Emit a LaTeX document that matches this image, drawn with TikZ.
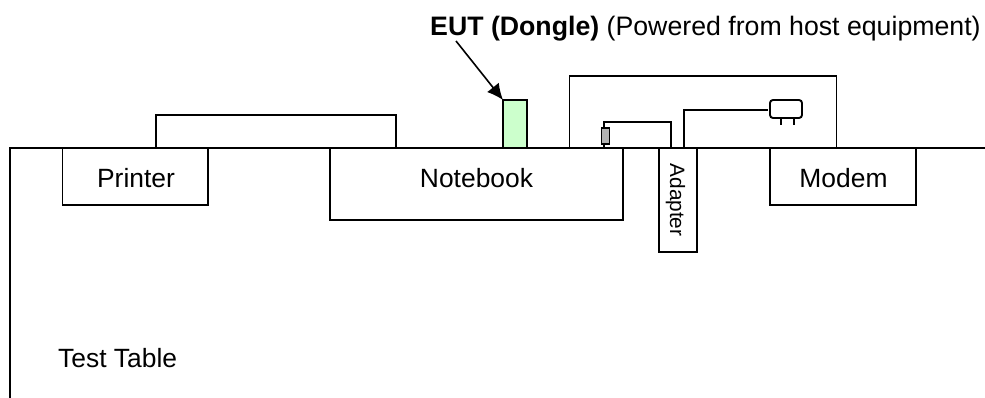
\documentclass[tikz,border=0pt]{standalone}
\usepackage{fontspec}
\setmainfont{Liberation Sans}
\usetikzlibrary{arrows.meta}
\tikzset{
  x=1pt,y=-1pt,
  ln/.style={draw=black,line width=1.9pt},
  thinln/.style={draw=black,line width=1.4pt},
  devbox/.style={ln,fill=white,rectangle,inner sep=0pt,outer sep=0pt,anchor=north west},
  lbl/.style={inner sep=0pt,anchor=base,font=\fontsize{26.4}{28}\selectfont}
}
\begin{document}
\begin{tikzpicture}
\useasboundingbox (0,0) rectangle (985,398);
\coordinate (tl) at (10,398);
\coordinate (tt) at (10,148);
\coordinate (tr) at (985,148);
\draw[ln] (tl) -- (tt) -- (tr);
\node[devbox,minimum width=145.5pt,minimum height=57pt] (printer) at (62.5,148) {};
\node[lbl] (printertext) at (136,188) {Printer};
\node[devbox,minimum width=293pt,minimum height=72pt] (notebook) at (330,148) {};
\node[lbl] (notebooktext) at (476.5,188) {Notebook};
\node[devbox,minimum width=38pt,minimum height=104pt] (adapter) at (659,148) {};
\node[lbl,rotate=-90,font=\fontsize{20.8}{22}\selectfont] (adaptertext) at (670,200) {Adapter};
\node[devbox,minimum width=146pt,minimum height=57pt] (modem) at (770,148) {};
\node[lbl] (modemtext) at (843.5,188) {Modem};
\node[devbox,fill=green!20,minimum width=24pt,minimum height=48pt] (eut) at (503,100) {};
\coordinate (p1) at (156,148); \coordinate (p2) at (396,148);
\draw[ln] (p1) -- (156,115) -- (396,115) -- (p2);
\coordinate (m1) at (569.5,148); \coordinate (m2) at (836.5,148);
\draw[ln] (m1) -- (569.5,76) -- (836.5,76) -- (m2);
\node[thinln,fill=gray!60,outer sep=0pt,minimum width=8pt,minimum height=16pt,inner sep=0pt] (plug) at (605.5,136) {};
\coordinate (c1) at (671,148);
\draw[ln] (604,128) |- (671,122) -- (c1);
\draw[thinln] (604,144) -- (604,148);
\node[ln,rounded corners=3pt,outer sep=0pt,minimum width=32pt,minimum height=18pt,inner sep=0pt] (wall) at (786,109) {};
\coordinate (c2) at (684,148);
\draw[ln] (c2) |- (768,110);
\draw[thinln] (781,118) -- (781,125) (794,118) -- (794,125);
\node[lbl,anchor=base west,font=\fontsize{26.7}{28}\selectfont] (hdr) at (430,35.5) {\textbf{EUT (Dongle)} (Powered from host equipment)};
\coordinate (as) at (456,41);
\draw[line width=1.6pt,-{Latex[length=16pt,width=15pt]}] (as) -- (eut.north west);
\node[lbl,anchor=base west] (tab) at (58,367) {Test Table};
\end{tikzpicture}
\end{document}
